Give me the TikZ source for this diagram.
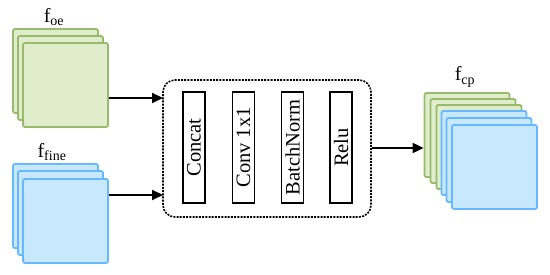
\documentclass[tikz,border=0pt]{standalone}
\usepackage{fontspec}
\setmainfont{Liberation Serif}
\usetikzlibrary{arrows.meta}
\definecolor{gfill}{HTML}{DFEDCD}
\definecolor{gdraw}{HTML}{98BB6B}
\definecolor{bfill}{HTML}{C8E8FF}
\definecolor{bdraw}{HTML}{66B8FF}
\tikzset{
  gsq/.style={draw=gdraw, fill=gfill, line width=1.8pt, rounded corners=2pt, minimum width=85pt, minimum height=84pt, inner sep=0pt},
  bsq/.style={draw=bdraw, fill=bfill, line width=1.8pt, rounded corners=2pt, minimum width=85pt, minimum height=84pt, inner sep=0pt},
  opbox/.style={draw, line width=1.6pt, minimum width=22pt, minimum height=111pt, inner sep=0pt},
  optext/.style={rotate=90, font=\fontsize{20.5}{24}\selectfont},
  lbl/.style={font=\fontsize{20}{24}\selectfont, inner sep=0pt},
  arr/.style={line width=2pt, -{Triangle[length=11pt,width=10pt]}},
}
\begin{document}
\begin{tikzpicture}[x=1pt,y=-1pt]
\useasboundingbox (0,0) rectangle (550,275);
% left green stack
\node[gsq] (g1) at (55.5,71) {};
\node[gsq] (g2) at (60.5,78) {};
\node[gsq] (g3) at (65.5,85) {};
\node[lbl] (loe) at (54,17) {f\textsubscript{oe}};
% left blue stack
\node[bsq] (b1) at (55.5,206) {};
\node[bsq] (b2) at (60.5,213) {};
\node[bsq] (b3) at (65.5,221) {};
\node[lbl] (lfine) at (52,152) {f\textsubscript{fine}};
% dashed box
\node[draw, line width=1.6pt, dash pattern=on 2pt off 1.2pt, rounded corners=12pt, minimum width=208pt, minimum height=137pt, inner sep=0pt] (box) at (267,148.5) {};
\node[opbox] (o1) at (194,147.5) {};
\node[optext] at (o1) {Concat};
\node[opbox] (o2) at (243.5,147.5) {};
\node[optext] at (o2) {Conv 1x1};
\node[opbox] (o3) at (292.5,147.5) {};
\node[optext] at (o3) {BatchNorm};
\node[opbox] (o4) at (341,147.5) {};
\node[optext] at (o4) {Relu};
% right stack
\node[gsq] (r1) at (467,135) {};
\node[gsq] (r2) at (473,141) {};
\node[gsq] (r3) at (479,147) {};
\node[bsq] (r4) at (484,153) {};
\node[bsq] (r5) at (489,160) {};
\node[bsq] (r6) at (494.5,167) {};
\node[lbl] (lcp) at (465,77) {f\textsubscript{cp}};
% arrows
\coordinate (a1) at (163,98);
\coordinate (a2) at (163,195);
\coordinate (a3) at (424,148);
\draw[arr] (g3.east |- a1) -- (a1);
\draw[arr] (b3.east |- a2) -- (a2);
\draw[arr] (box.east |- a3) -- (r1.west |- a3);
\end{tikzpicture}
\end{document}
